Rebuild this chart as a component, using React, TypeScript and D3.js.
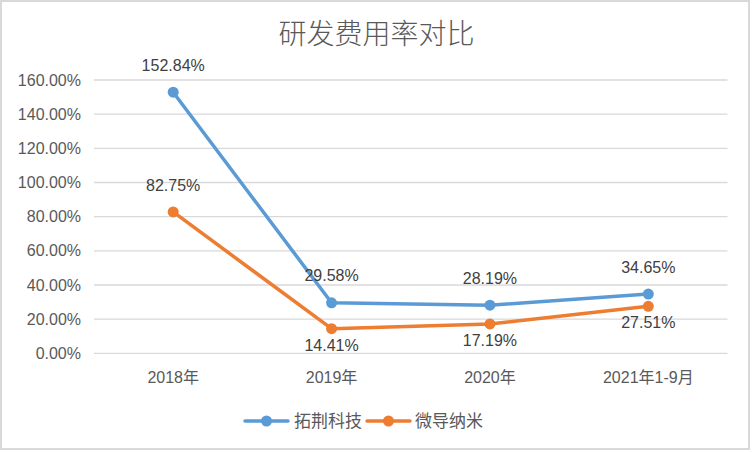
import React from "react";
import * as d3 from "d3";

const categories = ["2018年", "2019年", "2020年", "2021年1-9月"];
const seriesNames = ["拓荆科技", "微导纳米"];
const tuoJing = [152.84, 29.58, 28.19, 34.65];
const weiDao = [82.75, 14.41, 17.19, 27.51];
const yTicks = [0, 20, 40, 60, 80, 100, 120, 140, 160];
const labelAbove = [
  [true, true, true, true],
  [true, false, false, false],
];

const W = 752;
const H = 452;
const colors = ["#5B9BD5", "#ED7D31"];
const latin = "'Liberation Sans', Arial, 'Noto Sans CJK SC', sans-serif";
const cjk = "'Noto Sans CJK SC', 'Liberation Sans', sans-serif";

export default function App() {
  const x = d3.scaleBand<string>().domain(categories).range([94, 727.5]);
  const y = d3.scaleLinear().domain([0, 160]).range([353.3, 80]);
  const cx = (c: string) => (x(c) as number) + x.bandwidth() / 2;
  const series = [tuoJing, weiDao];
  const line = d3
    .line<number>()
    .x((_, i) => cx(categories[i]))
    .y((v) => y(v));

  const legendItems = [
    { x0: 245, x1: 288, tx: 294 },
    { x0: 367, x1: 410, tx: 415 },
  ];

  return (
    <svg
      width={W}
      height={H}
      style={{ position: "absolute", left: 0, top: 0, background: "#fff" }}
    >
      <rect x={0} y={0} width={W} height={H} fill="#fff" />
      <rect x={1} y={1} width={748} height={448} fill="none" stroke="#D9D9D9" strokeWidth={2} />
      <text
        x={376.5}
        y={44}
        textAnchor="middle"
        fontFamily={cjk}
        fontSize={28}
        fontWeight={300}
        fill="#595959"
      >
        研发费用率对比
      </text>

      {yTicks.map((t) => (
        <g key={t}>
          <line x1={94} x2={727.5} y1={y(t)} y2={y(t)} stroke="#D9D9D9" strokeWidth={1.3} />
          <text
            x={81}
            y={y(t)}
            dy="0.35em"
            textAnchor="end"
            fontFamily={latin}
            fontSize={16}
            fill="#595959"
          >
            {t.toFixed(2) + "%"}
          </text>
        </g>
      ))}

      {categories.map((c) => (
        <text
          key={c}
          x={cx(c)}
          y={382.5}
          textAnchor="middle"
          fontFamily={latin}
          fontSize={16}
          fill="#595959"
        >
          {c}
        </text>
      ))}

      {series.map((vals, si) => (
        <g key={si}>
          <path
            d={line(vals) as string}
            fill="none"
            stroke={colors[si]}
            strokeWidth={3.5}
            strokeLinejoin="round"
            strokeLinecap="round"
          />
          {vals.map((v, i) => (
            <circle key={i} cx={cx(categories[i])} cy={y(v)} r={5.5} fill={colors[si]} />
          ))}
        </g>
      ))}

      {series.map((vals, si) =>
        vals.map((v, i) => (
          <text
            key={`${si}-${i}`}
            x={cx(categories[i])}
            y={y(v) + (labelAbove[si][i] ? -21.3 : 22)}
            textAnchor="middle"
            fontFamily={latin}
            fontSize={16}
            fill="#404040"
          >
            {v.toFixed(2) + "%"}
          </text>
        ))
      )}

      {seriesNames.map((name, si) => {
        const it = legendItems[si];
        return (
          <g key={name}>
            <line x1={it.x0} x2={it.x1} y1={421} y2={421} stroke={colors[si]} strokeWidth={3.5} strokeLinecap="round" />
            <circle cx={(it.x0 + it.x1) / 2} cy={421} r={5.5} fill={colors[si]} />
            <text
              x={it.tx}
              y={421}
              dy="0.36em"
              fontFamily={cjk}
              fontSize={17}
              fill="#595959"
            >
              {name}
            </text>
          </g>
        );
      })}
    </svg>
  );
}
